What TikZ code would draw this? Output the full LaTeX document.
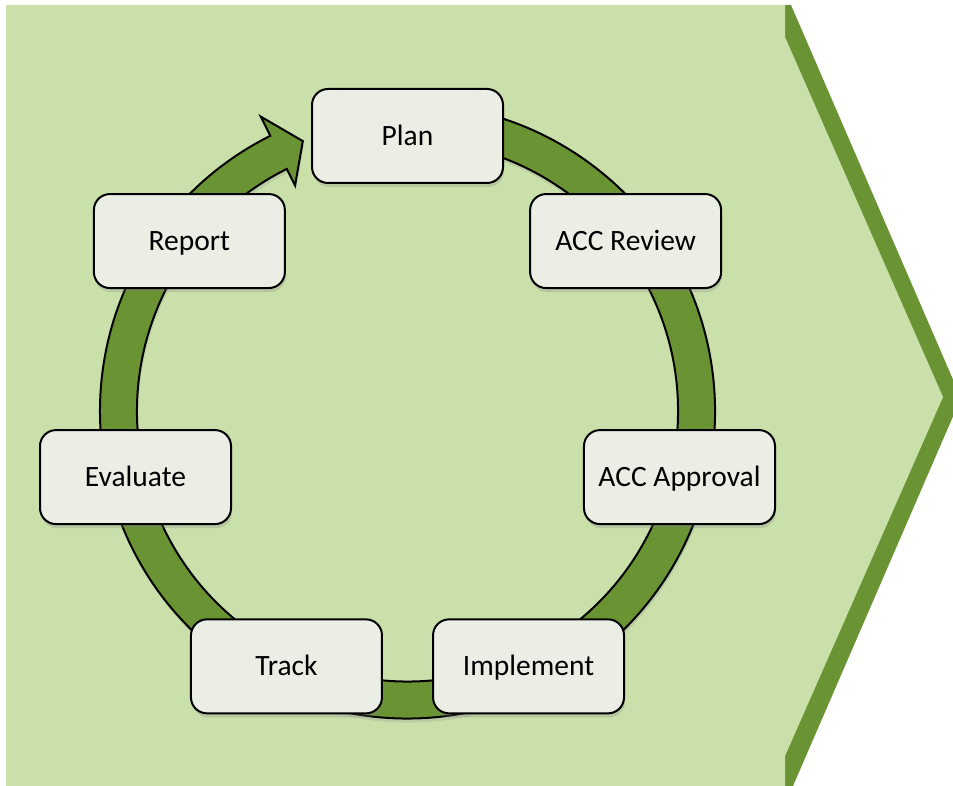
\documentclass[tikz,border=0pt]{standalone}
\usepackage{fontspec}
\setmainfont{Carlito}
\usepackage{tikz}
\usetikzlibrary{calc,shadows}
\definecolor{leafbg}{RGB}{201,224,171}
\definecolor{leafdark}{RGB}{106,148,52}
\definecolor{boxfill}{RGB}{235,238,228}
\tikzstyle{stage} = [draw=black, line width=2pt, fill=boxfill, rounded corners=16pt,
  minimum width=191pt, minimum height=94pt, font=\fontsize{29.5}{34}\selectfont,
  text height=19pt, text depth=0pt,
  drop shadow={shadow xshift=1pt, shadow yshift=-4pt, opacity=0.25}]
\tikzstyle{ring} = [draw=black, line width=2pt, fill=leafdark, line join=miter,
  drop shadow={shadow xshift=1pt, shadow yshift=-4pt, opacity=0.2}]

\begin{document}
\begin{tikzpicture}[x=1pt, y=1pt]
        \clip (0,0) rectangle (953,786);
        % chevron behind everything
        \fill[leafdark] (785,781) -- (791,781) -- (961,388) -- (793,0) -- (785,0) -- cycle;
        \fill[leafbg] (6,781) -- (785,781) -- (785,749) -- (943,389) -- (785,30) -- (785,0) -- (6,0) -- cycle;
        \coordinate (C) at (407.5,371);
        \coordinate (O) at (407.5,375);
        % cycle ring with head at Plan
        \begin{scope}[shift={(O)}]
        \path[ring] (100:307.5) arc[start angle=100, end angle=-243.5, radius=307.5]
          -- (-243.5:329) -- (-248.8:289.5) -- (-243.5:252) -- (-243.5:270.5)
          arc[start angle=-243.5, end angle=100, radius=270.5] -- cycle;
        \end{scope}
        \node[stage] (P) at ($(C)+(90:279)$) {Plan};
        \node[stage] (R) at ($(C)+(38.57:279)$) {ACC Review};
        \node[stage] (A) at ($(C)+(-12.86:279)$) {ACC Approval};
        \node[stage] (I) at ($(C)+(-64.29:279)$) {Implement};
        \node[stage] (T) at ($(C)+(-115.71:279)$) {Track};
        \node[stage] (E) at ($(C)+(-167.14:279)$) {Evaluate};
        \node[stage] (Rp) at ($(C)+(141.43:279)$) {Report};
    \end{tikzpicture}
\end{document}
